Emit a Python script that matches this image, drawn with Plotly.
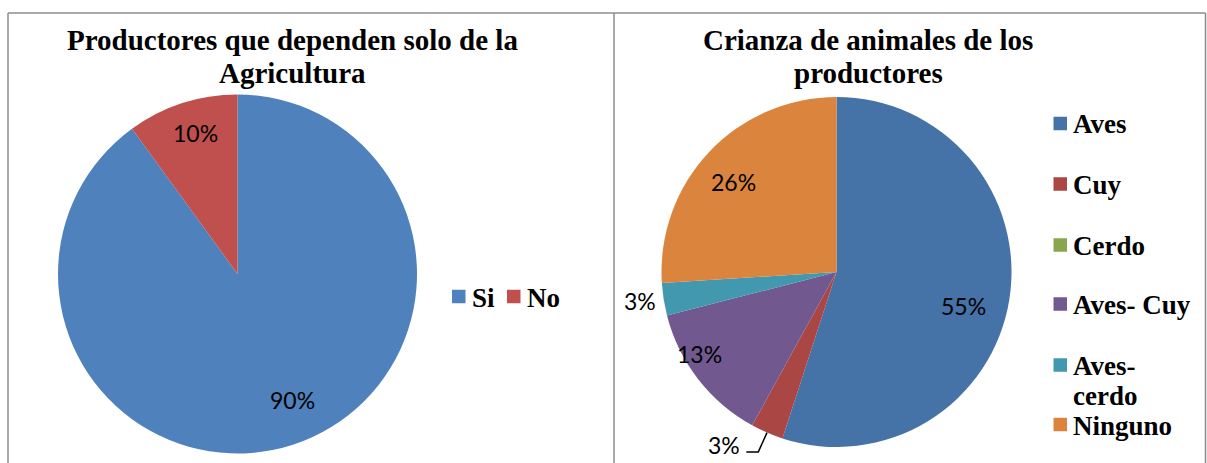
import math
import plotly.graph_objects as go

W, H = 1207, 463

# Productores que dependen solo de la agricultura
dep_labels = ["Si", "No"]
dep_values = [90, 10]
dep_colors = ["#4F81BD", "#C0504D"]

# Crianza de animales de los productores
cri_labels = ["Aves", "Cuy", "Cerdo", "Aves- Cuy", "Aves-cerdo", "Ninguno"]
cri_values = [55, 3, 0, 13, 3, 26]
cri_colors = ["#4572A7", "#AA4643", "#89A54E", "#71588F", "#4198AF", "#DB843D"]

# Pie geometry in pixels (center and radius)
LEFT_PIE = dict(cx=237.5, cy=274.0, r=179.5)
RIGHT_PIE = dict(cx=836.5, cy=272.0, r=175.0)

# Data-label placement: (radius factor, angular nudge in degrees); None = no label
dep_label_pos = [(0.765, -5.4), (0.818, 1.2)]
cri_label_pos = [(0.749, 6.0), (1.18, 9.5), None, (0.91, 6.8), (1.135, 0.6), (0.784, -2.0)]

TITLE_FONT = "Liberation Serif"
LABEL_FONT = "Lato"


def px(x):
    return x / W


def py(y):
    return 1 - y / H


def domain_of(g):
    return dict(
        x=[px(g["cx"] - g["r"]), px(g["cx"] + g["r"])],
        y=[py(g["cy"] + g["r"]), py(g["cy"] - g["r"])],
    )


def mid_angles(values):
    total = sum(values)
    out, acc = [], 0.0
    for v in values:
        out.append(360.0 * (acc + v / 2) / total)
        acc += v
    return out


def polar(g, angle_deg, k):
    a = math.radians(angle_deg)
    return g["cx"] + k * g["r"] * math.sin(a), g["cy"] - k * g["r"] * math.cos(a)


fig = go.Figure()
for labels, values, colors, g in [
    (dep_labels, dep_values, dep_colors, LEFT_PIE),
    (cri_labels, cri_values, cri_colors, RIGHT_PIE),
]:
    fig.add_trace(go.Pie(
        labels=labels, values=values, sort=False, direction="clockwise", rotation=0,
        marker=dict(colors=colors, line=dict(width=0)),
        textinfo="none", hoverinfo="label+percent", showlegend=False,
        domain=domain_of(g),
    ))

annotations, shapes = [], []

# Data labels on the slices
label_pixels = {}
for name, values, g, pos in [
    ("dep", dep_values, LEFT_PIE, dep_label_pos),
    ("cri", cri_values, RIGHT_PIE, cri_label_pos),
]:
    total = sum(values)
    for i, (v, a) in enumerate(zip(values, mid_angles(values))):
        if pos[i] is None or v == 0:
            continue
        k, nudge = pos[i]
        x, y = polar(g, a + nudge, k)
        label_pixels[(name, i)] = (x, y, a)
        annotations.append(dict(
            x=px(x), y=py(y), xref="paper", yref="paper", showarrow=False,
            text=f"{round(100 * v / total)}%", xanchor="center", yanchor="middle",
            font=dict(family=LABEL_FONT, size=23, color="#000000"),
        ))

# Leader line for the small "Cuy" slice
lx, ly, la = label_pixels[("cri", 1)]
ex, ey = polar(RIGHT_PIE, la, 1.0)
pts = [(lx + 22, ly + 6.5), (lx + 34, ly + 6.5), (ex, ey)]
path = "M " + " L ".join(f"{px(x):.5f},{py(y):.5f}" for x, y in pts)
shapes.append(dict(type="path", path=path, xref="paper", yref="paper",
                   line=dict(color="#000000", width=1.5)))

# Titles
for lines, cx in [
    (["Productores que dependen solo de la", "Agricultura"], 292),
    (["Crianza de animales de los", "productores"], 868),
]:
    for j, t in enumerate(lines):
        annotations.append(dict(
            x=px(cx), y=py(40 + 33 * j), xref="paper", yref="paper", showarrow=False,
            text=f"<b>{t}</b>", xanchor="center", yanchor="middle",
            font=dict(family=TITLE_FONT, size=29, color="#000000"),
        ))

LEGEND_FONT = dict(family=TITLE_FONT, size=27, color="#000000")
SQ = 13.5


def legend_item(x, yc, color, text):
    shapes.append(dict(type="rect", xref="paper", yref="paper",
                       x0=px(x), x1=px(x + SQ), y0=py(yc + SQ / 2), y1=py(yc - SQ / 2),
                       fillcolor=color, line=dict(width=0)))
    annotations.append(dict(
        x=px(x + SQ + 4), y=py(yc + 1), xref="paper", yref="paper", showarrow=False,
        text=f"<b>{text}</b>", xanchor="left", yanchor="middle", align="left",
        font=LEGEND_FONT,
    ))


# Horizontal legend, left chart
legend_item(452, 296.5, dep_colors[0], dep_labels[0])
legend_item(507, 296.5, dep_colors[1], dep_labels[1])

# Vertical legend, right chart
legend_wrap = {"Aves-cerdo": "Aves-<br>cerdo"}
legend_rows = [123.5, 184, 245, 304, 365, 424.5]
for lab, col, yc in zip(cri_labels, cri_colors, legend_rows):
    text = legend_wrap.get(lab, lab)
    if "<br>" in text:
        shapes.append(dict(type="rect", xref="paper", yref="paper",
                           x0=px(1053.5), x1=px(1053.5 + SQ), y0=py(yc + SQ / 2), y1=py(yc - SQ / 2),
                           fillcolor=col, line=dict(width=0)))
        first, second = text.split("<br>")
        for j, t in enumerate([first, second]):
            annotations.append(dict(
                x=px(1053.5 + SQ + 4), y=py(yc + 1 + 30 * j), xref="paper", yref="paper",
                showarrow=False, text=f"<b>{t}</b>", xanchor="left", yanchor="middle",
                font=LEGEND_FONT,
            ))
    else:
        legend_item(1053.5, yc, col, text)

# Chart frames
FRAME = dict(color="#8C8C8C", width=1.5)
shapes.append(dict(type="line", xref="paper", yref="paper", x0=px(8), x1=px(1205.5),
                   y0=py(13), y1=py(13), line=FRAME))
for xv in [8, 614, 1205.5]:
    shapes.append(dict(type="line", xref="paper", yref="paper", x0=px(xv), x1=px(xv),
                       y0=py(13), y1=py(463), line=FRAME))

fig.update_layout(
    width=W, height=H, margin=dict(l=0, r=0, t=0, b=0),
    paper_bgcolor="white", plot_bgcolor="white",
    annotations=annotations, shapes=shapes, showlegend=False,
)

fig.write_html("out.html")
